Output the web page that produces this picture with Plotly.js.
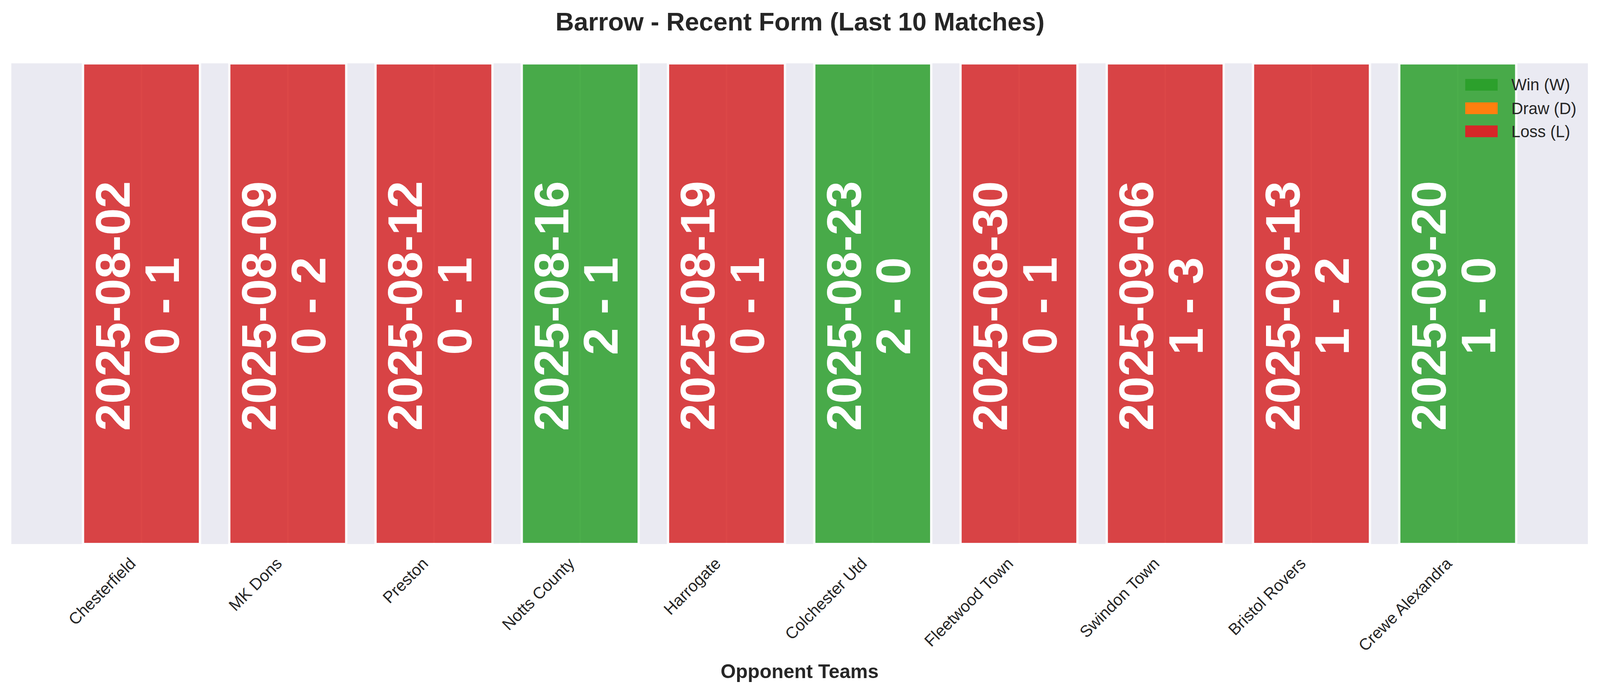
<!DOCTYPE html>
<html>
<head>
<meta charset="utf-8">
<script src="https://cdn.plot.ly/plotly-3.0.1.min.js"></script>
<style>
  html, body { margin: 0; padding: 0; background: #ffffff; overflow: hidden; }
</style>
</head>
<body>
<div id="chart"></div>
<script>
// Barrow - last 10 matches
const teams = ['Chesterfield', 'MK Dons', 'Preston', 'Notts County', 'Harrogate',
  'Colchester Utd', 'Fleetwood Town', 'Swindon Town', 'Bristol Rovers', 'Crewe Alexandra'];
const matchDates = ['2025-08-02', '2025-08-09', '2025-08-12', '2025-08-16', '2025-08-19',
  '2025-08-23', '2025-08-30', '2025-09-06', '2025-09-13', '2025-09-20'];
const scores = ['0 - 1', '0 - 2', '0 - 1', '2 - 1', '0 - 1', '2 - 0', '0 - 1', '1 - 3', '1 - 2', '1 - 0'];
const results = ['L', 'L', 'L', 'W', 'L', 'W', 'L', 'L', 'L', 'W'];
const formValue = [1, 1, 1, 1, 1, 1, 1, 1, 1, 1];

const outcomes = ['W', 'D', 'L'];
const outcomeNames = ['Win (W)', 'Draw (D)', 'Loss (L)'];
const outcomeColors = ['#2ca02c', '#ff7f0e', '#d62728'];

const FONT = 'Liberation Sans, Arial, sans-serif';
const INK = '#262626';

// the window may be narrower than the 4170px design; squeeze horizontally to fit
const W = window.innerWidth || 4170;
const H = 1768;
const sx = W / 4170;

// one bar trace per outcome so colours follow the result
const traces = outcomes.map((o, k) => {
  const idx = results.map((r, i) => r === o ? i : -1).filter(i => i >= 0);
  return {
    type: 'bar',
    x: idx.map(i => teams[i]),
    y: idx.map(i => formValue[i]),
    name: outcomeNames[k],
    marker: { color: outcomeColors[k], line: { color: '#ffffff', width: 6 } },
    opacity: 0.85,
    showlegend: false,
    hoverinfo: 'x'
  };
});

const annotations = [];

// date and score written inside each bar
for (let i = 0; i < teams.length; i++) {
  annotations.push({
    x: teams[i], y: formValue[i] / 2, xref: 'x', yref: 'y',
    text: matchDates[i], showarrow: false, textangle: -90,
    xshift: -76 * sx, yshift: -6,
    font: { family: FONT, size: 125, color: '#ffffff', weight: 'bold' }
  });
  annotations.push({
    x: teams[i], y: formValue[i] / 2, xref: 'x', yref: 'y',
    text: scores[i], showarrow: false, textangle: -90,
    xshift: 53 * sx, yshift: -6,
    font: { family: FONT, size: 125, color: '#ffffff', weight: 'bold' }
  });
}

// legend drawn as colour patches + labels (matplotlib-sized patches)
const legendRows = [0.9553, 0.9065, 0.8585];
for (let k = 0; k < outcomes.length; k++) {
  annotations.push({
    xref: 'paper', yref: 'paper', x: 0.9326, y: legendRows[k],
    xanchor: 'center', yanchor: 'middle',
    text: ' ', showarrow: false, width: 84 * sx, height: 30,
    bgcolor: outcomeColors[k], borderpad: 0, borderwidth: 0,
    font: { size: 4 }
  });
  annotations.push({
    xref: 'paper', yref: 'paper', x: 0.951, y: legendRows[k],
    xanchor: 'left', yanchor: 'middle',
    text: outcomeNames[k], showarrow: false,
    font: { family: FONT, size: 41.7, color: INK }
  });
}

const layout = {
  width: W,
  height: H,
  title: {
    text: 'Barrow - Recent Form (Last 10 Matches)',
    font: { family: FONT, size: 65.5, color: INK, weight: 'bold' },
    x: 0.5, xanchor: 'center',
    y: 1 - 55 / H, yref: 'container', yanchor: 'middle'
  },
  paper_bgcolor: '#ffffff',
  plot_bgcolor: '#eaeaf2',
  margin: { l: 30 * sx, r: 32 * sx, t: 162, b: 376 },
  barmode: 'overlay',
  bargap: 0.2,
  showlegend: false,
  xaxis: {
    type: 'category',
    categoryorder: 'array',
    categoryarray: teams,
    range: [-0.89, teams.length - 0.11],
    showgrid: true,
    gridcolor: '#ffffff',
    gridwidth: 4,
    zeroline: false,
    showline: false,
    ticks: '',
    tickangle: -45,
    ticklabelstandoff: 16,
    ticklabelshift: -27,
    tickfont: { family: FONT, size: 41.7, color: INK },
    title: {
      text: 'Opponent Teams',
      font: { family: FONT, size: 50, color: INK, weight: 'bold' },
      standoff: 25
    },
    automargin: true
  },
  yaxis: {
    range: [0, 1],
    showgrid: false,
    zeroline: false,
    showticklabels: false,
    ticks: ''
  },
  annotations: annotations
};

Plotly.newPlot('chart', traces, layout, { displayModeBar: false, staticPlot: true });
</script>
</body>
</html>
